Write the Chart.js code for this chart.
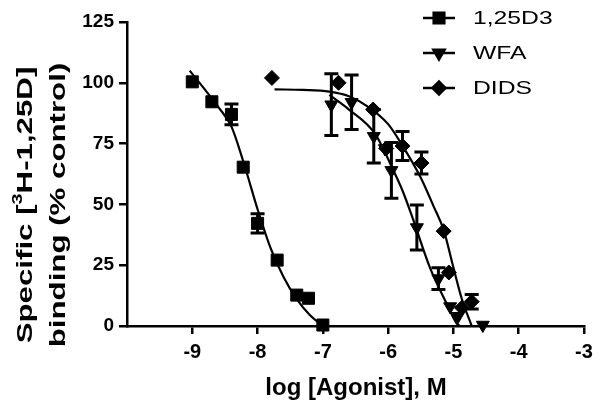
<!DOCTYPE html>
<html>
<head>
<meta charset="utf-8">
<script src="https://cdn.jsdelivr.net/npm/chart.js@4.4.1/dist/chart.umd.min.js"></script>
<style>
  html, body { margin: 0; padding: 0; background: #fff; }
  #wrap { width: 600px; height: 409px; position: relative; }
</style>
</head>
<body>
<div id="wrap"><canvas id="myChart"></canvas></div>
<script>
/* global Chart */

// log [Agonist] (M) and % specific binding
const d3X = [-9, -8.7, -8.4, -8.22, -8, -7.7, -7.4, -7.22, -7];
const d3Y = [100.4, 92.2, 87, 65.3, 42.2, 27.1, 12.7, 11.4, 0.4];
const d3Err = [0, 0, 4.3, 0, 4, 0, 0, 0, 0];

const wfaX = [-6.87, -6.56, -6.22, -6.05, -5.95, -5.56, -5.23, -5.05, -4.93, -4.55];
const wfaY = [91, 92, 78, 73, 64, 40.5, 19.5, 8, 4, 0.4];
const wfaErr = [12.7, 11.2, 11, 0, 11.5, 9.3, 4.5, 0, 0, 0];

const didsX = [-7.78, -6.76, -6.23, -6.03, -5.78, -5.49, -5.15, -5.07, -4.87, -4.72];
const didsY = [102, 100, 89, 73, 74, 67, 39, 22, 7.5, 10];
const didsErr = [0, 0, 0, 0, 6, 4.5, 0, 0, 0, 3];

// fitted curves
const d3CurveX = [-9.04, -8.8, -8.6, -8.4, -8.2, -8.0, -7.8, -7.6, -7.4, -7.2, -7.0];
const d3CurveY = [105, 97, 90, 82, 66, 48, 32, 20, 11, 4.5, 0];
const wfaCurveX = [-6.9, -6.6, -6.2, -5.92, -5.77, -5.62, -5.36, -5.1, -4.95, -4.9];
const wfaCurveY = [95, 89, 79, 64, 55, 44, 24, 9, 1, 0];
const didsCurveX = [-7.74, -7.3, -6.9, -6.6, -6.3, -6.0, -5.8, -5.5, -5.3, -5.15, -5.0, -4.87, -4.72];
const didsCurveY = [97.3, 97.1, 96.4, 94.5, 90, 83, 75, 61, 49, 39.5, 24, 11, 0];

const xTicks = [-9, -8, -7, -6, -5, -4, -3];
const yTicks = [0, 25, 50, 75, 100, 125];

const FONT = '"Liberation Sans", Arial, sans-serif';

function pts(xs, ys) {
  return xs.map(function(x, i) { return { x: x, y: ys[i] }; });
}

function curve(xs, ys) {
  return {
    data: pts(xs, ys),
    showLine: true,
    borderColor: '#000',
    borderWidth: 2.2,
    pointRadius: 0,
    cubicInterpolationMode: 'monotone',
    clip: false
  };
}

function markers(label, xs, ys, errs, style, radius, rotation) {
  return {
    label: label,
    data: pts(xs, ys),
    errs: errs,
    showLine: false,
    pointStyle: style,
    pointRadius: radius,
    rotation: rotation || 0,
    backgroundColor: '#000',
    borderColor: '#000',
    borderWidth: 1,
    clip: false
  };
}

const series = [
  markers('1,25D3', d3X, d3Y, d3Err, 'rect', 8.5),
  markers('WFA', wfaX, wfaY, wfaErr, 'triangle', 7.5, 180),
  markers('DIDS', didsX, didsY, didsErr, 'rectRot', 7.5)
];

// error bars with caps
const errorBars = {
  id: 'errorBars',
  beforeDatasetsDraw: function(chart) {
    const ctx = chart.ctx;
    const xs = chart.scales.x, ys = chart.scales.y;
    ctx.save();
    ctx.strokeStyle = '#000';
    ctx.lineWidth = 3;
    chart.data.datasets.forEach(function(ds) {
      if (!ds.errs) return;
      ds.data.forEach(function(p, i) {
        const e = ds.errs[i];
        if (!e) return;
        const px = xs.getPixelForValue(p.x);
        const top = ys.getPixelForValue(p.y + e);
        const bot = ys.getPixelForValue(p.y - e);
        ctx.beginPath();
        ctx.moveTo(px, top); ctx.lineTo(px, bot);
        ctx.moveTo(px - 7, top); ctx.lineTo(px + 7, top);
        ctx.moveTo(px - 7, bot); ctx.lineTo(px + 7, bot);
        ctx.stroke();
      });
    });
    ctx.restore();
  }
};

// legend with line + marker, and the axis titles
const labels = {
  id: 'labels',
  afterDraw: function(chart) {
    const ctx = chart.ctx;
    ctx.save();
    ctx.fillStyle = '#000';
    ctx.strokeStyle = '#000';

    // legend
    const rowY = [18, 53, 88];
    series.forEach(function(ds, i) {
      const y = rowY[i];
      ctx.lineWidth = 2.5;
      ctx.beginPath();
      ctx.moveTo(423, y); ctx.lineTo(455, y);
      ctx.stroke();
      Chart.helpers.drawPoint(ctx, {
        pointStyle: ds.pointStyle, radius: ds.pointRadius - 1,
        rotation: ds.rotation, borderWidth: 1
      }, 439, y);
      ctx.fill();
      ctx.save();
      ctx.translate(473, y);
      ctx.scale(1.3, 1);
      ctx.font = '19px ' + FONT;
      ctx.textAlign = 'left';
      ctx.textBaseline = 'middle';
      ctx.fillText(ds.label, 0, 1);
      ctx.restore();
    });

    // x title
    ctx.font = 'bold 24px ' + FONT;
    ctx.textAlign = 'center';
    ctx.textBaseline = 'alphabetic';
    ctx.fillText('log [Agonist], M', 356, 395);

    // y title, two lines with superscript 3
    ctx.save();
    ctx.translate(32, 205);
    ctx.rotate(-Math.PI / 2);
    ctx.scale(1.42, 1);
    ctx.textAlign = 'left';
    const big = 'bold 22px ' + FONT, small = 'bold 14px ' + FONT;
    ctx.font = big;
    const a = 'Specific [', b = 'H-1,25D]';
    const wa = ctx.measureText(a).width, wb = ctx.measureText(b).width;
    ctx.font = small;
    const ws = ctx.measureText('3').width;
    let x0 = -(wa + ws + wb) / 2;
    ctx.font = big;
    ctx.fillText(a, x0, 0);
    ctx.font = small;
    ctx.fillText('3', x0 + wa, -10);
    ctx.font = big;
    ctx.fillText(b, x0 + wa + ws, 0);
    ctx.textAlign = 'center';
    ctx.fillText('binding (% control)', 0, 33);
    ctx.restore();

    ctx.restore();
  }
};

const ctx = document.getElementById('myChart').getContext('2d');

const chart = new Chart(ctx, {
  type: 'scatter',
  data: {
    datasets: [
      curve(d3CurveX, d3CurveY),
      curve(wfaCurveX, wfaCurveY),
      curve(didsCurveX, didsCurveY)
    ].concat(series)
  },
  options: {
    responsive: true,
    maintainAspectRatio: false,
    devicePixelRatio: 1,
    animation: false,
    layout: { padding: { left: 0, top: 22, right: 16, bottom: 0 } },
    plugins: {
      legend: { display: false },
      tooltip: { enabled: false }
    },
    scales: {
      x: {
        type: 'linear',
        min: -10,
        max: -3,
        afterFit: function(scale) { scale.height = 83; },
        afterBuildTicks: function(scale) {
          scale.ticks = [-10].concat(xTicks).map(function(v) { return { value: v }; });
        },
        ticks: {
          color: '#000',
          padding: 6,
          font: { family: FONT, size: 20, weight: 'bold' },
          callback: function(v) { return xTicks.indexOf(v) >= 0 ? String(v) : null; }
        },
        grid: { drawOnChartArea: false, drawTicks: true, tickLength: 8, color: '#000', lineWidth: 2.5 },
        border: { color: '#000', width: 2.5 }
      },
      y: {
        min: 0,
        max: 125,
        afterFit: function(scale) { scale.width = 127; },
        afterBuildTicks: function(scale) {
          scale.ticks = yTicks.map(function(v) { return { value: v }; });
        },
        ticks: {
          color: '#000',
          padding: 5,
          font: { family: FONT, size: 19, weight: 'bold' }
        },
        grid: { drawOnChartArea: false, drawTicks: true, tickLength: 8, color: '#000', lineWidth: 2.5 },
        border: { color: '#000', width: 2.5 }
      }
    }
  },
  plugins: [errorBars, labels]
});
</script>
</body>
</html>
